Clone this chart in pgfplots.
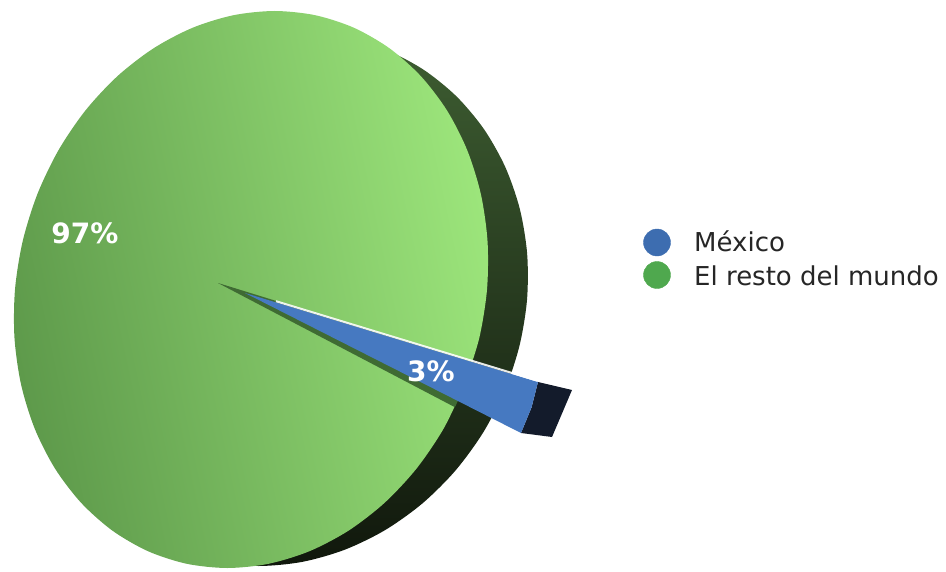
\documentclass[border=0pt]{standalone}
\usepackage{fontspec}
\setmainfont{DejaVu Sans}
\usepackage{pgfplots}
\pgfplotsset{compat=1.18}
\definecolor{sideTop}{HTML}{3E5E32}
\definecolor{sideBot}{HTML}{10170C}
\definecolor{faceLight}{HTML}{9CE57B}
\definecolor{faceDark}{HTML}{5E9A4B}
\definecolor{gapGreen}{HTML}{3F6B33}
\definecolor{wedgeBlue}{HTML}{4679C1}
\definecolor{wedgeEnd}{HTML}{131B2B}
\definecolor{legBlue}{HTML}{3D6DB0}
\definecolor{legGreen}{HTML}{4FA84E}
\definecolor{legText}{HTML}{262626}
\begin{document}
\begin{tikzpicture}
\begin{axis}[width=946bp,height=572bp,scale only axis,
  xmin=0,xmax=946,ymin=0,ymax=572,y dir=reverse,hide axis]
\addplot[draw=none,forget plot] coordinates {(0,0) (946,572)};
% side wall of the pie (back rim)
\addplot[draw=none,smooth,top color=sideTop,bottom color=sideBot] coordinates {
(35.2,300) (42.83,253.82) (57.69,209.03) (79.35,167) (107.14,129.02) (140.2,96.24)
(177.55,69.64) (218.05,50.04) (260.47,38.04) (303.5,34) (345.85,38.04) (386.25,50.04)
(423.45,69.64) (456.32,96.24) (483.86,129.02) (505.25,167) (519.83,209.03) (527.15,253.82)
(527,300) (519.37,346.18) (504.51,390.97) (482.85,433) (455.06,470.98) (422.0,503.76)
(384.65,530.36) (344.15,549.96) (301.73,561.96) (258.7,566) (216.35,561.96) (175.95,549.96)
(138.75,530.36) (105.88,503.76) (78.34,470.98) (56.95,433) (42.37,390.97) (35.05,346.18)
(35.2,300)};
% top face: El resto del mundo (97%)
\addplot[draw=none,smooth,top color=faceLight,bottom color=faceDark,shading angle=-78] coordinates {
(464.66,384.75) (443.53,428.75) (416.55,468.52) (384.55,502.83) (348.48,530.68)
(309.44,551.21) (268.63,563.77) (227.3,568) (186.69,563.77) (148.02,551.21)
(112.48,530.68) (81.15,502.83) (54.99,468.52) (34.77,428.75) (21.12,384.75)
(14.48,337.85) (15,289.5) (22.70,241.15) (37.34,194.25) (58.47,150.25) (85.45,110.48)
(117.45,76.17) (153.52,48.32) (192.56,27.79) (233.37,15.23) (274.7,11) (315.31,15.23)
(353.98,27.79) (389.52,48.32) (420.85,76.17) (447.01,110.48) (467.23,150.25)
(480.88,194.25) (487.52,241.15) (487,289.5) (479.3,337.85) (464.66,384.75)};
% gap left by the exploded slice
\addplot[draw=none,fill=gapGreen] coordinates {
(218,283) (472.8,361.6) (468.94,373.25) (464.66,384.75) (459.97,396.08) (454.9,407.2) (218,283)};
% exploded slice: Mexico (3%)
\addplot[draw=none,fill=wedgeEnd] coordinates {
(538,382) (572,390) (552,437) (521,433) (531.5,407.5) (538,382)};
\addplot[draw=none,fill=wedgeBlue] coordinates {
(245,293) (538,382) (531.5,407.5) (521,433) (245,293)};
\addplot[white,line width=2bp,opacity=0.9] coordinates {(276,301.2) (537,380.6)};
% labels
\node[text=white,inner sep=0pt,font=\fontsize{28bp}{30bp}\selectfont\bfseries] at (axis cs:85,233.5) {97\%};
\node[text=white,inner sep=0pt,font=\fontsize{28bp}{30bp}\selectfont\bfseries] at (axis cs:431,371) {3\%};
% legend
\addplot[only marks,color=legBlue,mark=*,mark size=13.5bp,mark options={draw=legBlue,fill=legBlue}] coordinates {(657,242.5)};
\addplot[only marks,color=legGreen,mark=*,mark size=13.5bp,mark options={draw=legGreen,fill=legGreen}] coordinates {(657,275)};
\node[anchor=base west,inner sep=0pt,text=legText,font=\fontsize{26bp}{28bp}\selectfont] at (axis cs:694,251.7) {México};
\node[anchor=base west,inner sep=0pt,text=legText,font=\fontsize{26bp}{28bp}\selectfont] at (axis cs:694,285) {El resto del mundo};
\end{axis}
\end{tikzpicture}
\end{document}
